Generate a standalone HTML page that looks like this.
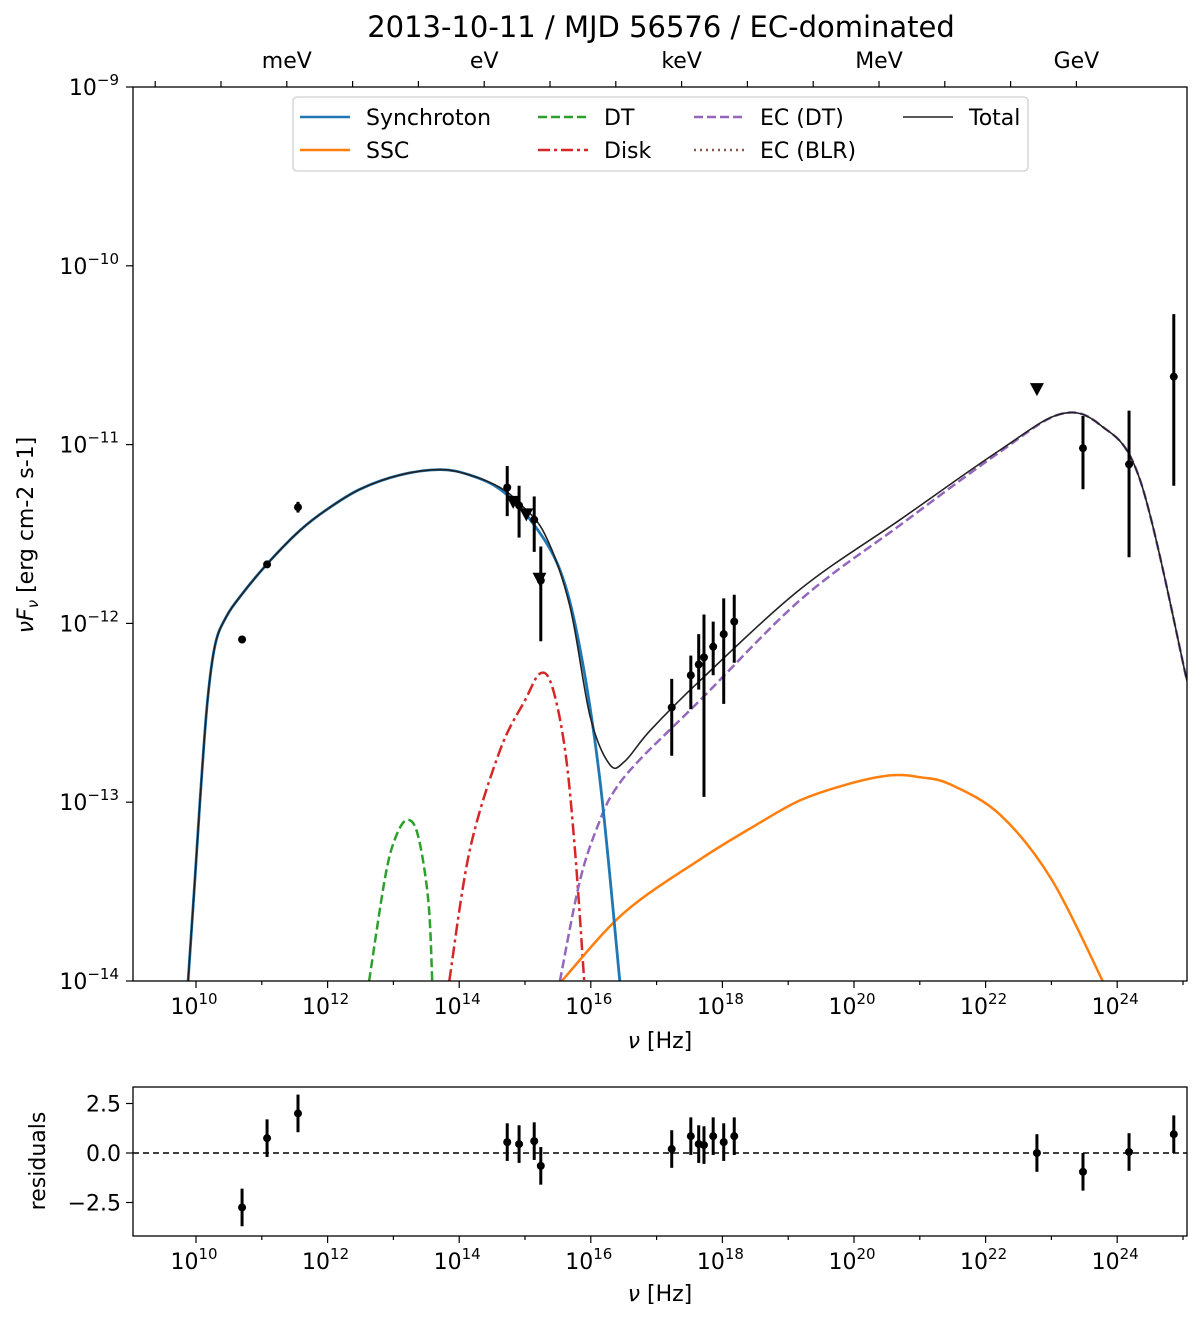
<!DOCTYPE html>
<html><head><meta charset="utf-8"><style>
body{margin:0;background:#fff;}
svg text{font-family:"DejaVu Sans","Liberation Sans",sans-serif;fill:#000;}
</style></head><body>
<svg id="chart" width="1200" height="1322" viewBox="0 0 1200 1322" xmlns="http://www.w3.org/2000/svg"></svg>
<script>
// ---- data (log10 nu, log10 nuFnu) ----
const syncX=[9.88,9.98,10.06,10.17,10.29,10.45,10.67,11.1,11.58,12.0,12.49,13.1,13.71,14.16,14.62,15.08,15.53,15.84,16.14,16.44];
const syncY=[-14,-13.45,-13.0,-12.45,-12.12,-11.97,-11.85,-11.66,-11.48,-11.36,-11.25,-11.17,-11.14,-11.17,-11.25,-11.42,-11.70,-12.15,-12.88,-14];
const totX=[9.88,9.98,10.06,10.17,10.29,10.45,10.67,11.1,11.58,12.0,12.49,13.1,13.71,14.16,14.62,14.92,15.30,15.68,15.99,16.29,16.52,16.90,17.66,19.18,20.70,22.22,23.13,23.74,24.35,25.06];
const totY=[-14,-13.45,-13.0,-12.45,-12.12,-11.97,-11.85,-11.66,-11.48,-11.36,-11.25,-11.17,-11.14,-11.17,-11.24,-11.33,-11.50,-11.90,-12.52,-12.79,-12.77,-12.6,-12.32,-11.81,-11.42,-11.03,-10.83,-10.89,-11.2,-12.32];
const ecX=[15.53,15.84,16.14,16.37,16.75,17.66,19.18,20.70,22.22,23.13,23.74,24.35,25.06];
const ecY=[-14,-13.43,-13.1,-12.93,-12.76,-12.43,-11.87,-11.45,-11.04,-10.83,-10.89,-11.2,-12.32];
const sscX=[15.56,16.5,17.66,18.5,19.18,19.9,20.55,21.0,21.46,22.22,23.0,23.78];
const sscY=[-14,-13.62,-13.32,-13.13,-12.99,-12.9,-12.85,-12.86,-12.9,-13.07,-13.43,-14];
const dtX=[12.63,12.87,13.02,13.2,13.37,13.53,13.59];
const dtY=[-14,-13.43,-13.21,-13.1,-13.18,-13.55,-14];
const diskX=[13.85,14.16,14.62,15.0,15.23,15.41,15.61,15.76,15.9];
const diskY=[-14,-13.27,-12.71,-12.43,-12.28,-12.35,-12.71,-13.27,-14];
const ptX=[10.70,11.08,11.55,14.73,14.91,15.14,15.24,17.23,17.52,17.64,17.72,17.86,18.02,18.18,23.48,24.18,24.86];
const ptY=[-12.09,-11.67,-11.35,-11.24,-11.34,-11.42,-11.76,-12.47,-12.29,-12.23,-12.19,-12.13,-12.06,-11.99,-11.02,-11.11,-10.62];
const ptHi=[-12.09,-11.67,-11.32,-11.12,-11.23,-11.29,-11.57,-12.31,-12.18,-12.06,-11.95,-11.99,-11.86,-11.84,-10.84,-10.81,-10.27];
const ptLo=[-12.09,-11.67,-11.38,-11.40,-11.52,-11.60,-12.10,-12.74,-12.48,-12.37,-12.97,-12.29,-12.45,-12.22,-11.25,-11.63,-11.23];
const ulX=[14.82,15.02,15.22,22.78];
const ulY=[-11.32,-11.39,-11.75,-10.69];
const resX=[10.70,11.08,11.55,14.73,14.91,15.14,15.24,17.23,17.52,17.64,17.72,17.86,18.02,18.18,22.78,23.48,24.18,24.86];
const resV=[-2.75,0.75,2.0,0.55,0.45,0.6,-0.65,0.2,0.85,0.45,0.4,0.85,0.55,0.85,0.0,-0.95,0.05,0.95];
const resE=[0.95,0.95,0.95,0.95,0.95,0.95,0.95,0.95,0.95,0.95,0.95,0.95,0.95,0.95,0.95,0.95,0.95,0.95];
const xTicks=[10,12,14,16,18,20,22,24];
const yTicks=[-9,-10,-11,-12,-13,-14];
const resTicks=[2.5,0.0,-2.5];
const energyLabels=["meV","eV","keV","MeV","GeV"];

// ---- axes ----
const L=133,R=1187,T=87,B=981, RT=1087,RB=1236;
const X=v=>196+(v-10)*65.8;
const Y=v=>87+(-9-v)*178.8;
const RY=v=>1153-v*19.8;
const svg=document.getElementById('chart');
const NS='http://www.w3.org/2000/svg';
function mk(tag,at,parent){const e=document.createElementNS(NS,tag);for(const k in at)e.setAttribute(k,at[k]);(parent||svg).appendChild(e);return e;}
function txt(s,x,y,size,anchor,parent){const t=mk('text',{x:x,y:y,'font-size':size,'text-anchor':anchor||'middle'},parent);t.textContent=s;return t;}

const defs=mk('defs',{});
const cp=mk('clipPath',{id:'mainclip'},defs);mk('rect',{x:L,y:T,width:R-L,height:B-T},cp);
const g=mk('g',{'clip-path':'url(#mainclip)'});



function smooth(P){
  let d='M'+P[0][0].toFixed(1)+','+P[0][1].toFixed(1);
  for(let i=0;i<P.length-1;i++){
    const p0=P[Math.max(0,i-1)],p1=P[i],p2=P[i+1],p3=P[Math.min(P.length-1,i+2)];
    const c1=[p1[0]+(p2[0]-p0[0])/6,p1[1]+(p2[1]-p0[1])/6];
    const c2=[p2[0]-(p3[0]-p1[0])/6,p2[1]-(p3[1]-p1[1])/6];
    d+=` C${c1[0].toFixed(1)},${c1[1].toFixed(1)} ${c2[0].toFixed(1)},${c2[1].toFixed(1)} ${p2[0].toFixed(1)},${p2[1].toFixed(1)}`;
  }
  return d;
}
function line(xs,ys,color,w,dash,name){
  const P=xs.map((v,i)=>[X(v),Y(ys[i])]);
  const p=mk('path',{d:smooth(P),fill:'none',stroke:color,'stroke-width':w,'stroke-dasharray':dash||'none','stroke-linejoin':'round'},g);
  
  
}
line(dtX,dtY,'#2ca02c',2.5,'9,4','dt-curve');
line(diskX,diskY,'#d62728',2.5,'12,4,3,4','disk-curve');
line(sscX,sscY,'#ff7f0e',2.5,'','ssc-curve');
line(ecX,ecY,'#9467bd',2.5,'9,4','ec-dt-curve');
line(syncX,syncY,'#1f77b4',2.8,'','synchrotron-curve');
line(totX,totY,'#222',1.6,'','total-curve');

ptX.forEach((v,i)=>{
  const e=mk('line',{x1:X(v),x2:X(v),y1:Y(ptHi[i]),y2:Y(ptLo[i]),stroke:'#000','stroke-width':3},g);
  
  
  const c=mk('circle',{cx:X(v),cy:Y(ptY[i]),r:4,fill:'#000'},g);
  
  
});
ulX.forEach((v,i)=>{
  const x=X(v),y=Y(ulY[i]);
  const p=mk('path',{d:`M${x-7},${y-6} L${x+7},${y-6} L${x},${y+7} Z`,fill:'#000'},g);
  
  
});

mk('rect',{x:L,y:T,width:R-L,height:B-T,fill:'none',stroke:'#000','stroke-width':1.3});
for(let d=9;d<=25;d++){
  if(X(d)<L||X(d)>R)continue;
  const major=xTicks.includes(d);
  [B,RB].forEach(by=>mk('line',{x1:X(d),x2:X(d),y1:by,y2:by+(major?7:4),stroke:'#000','stroke-width':1.2}));
}
xTicks.forEach(d=>{[B,RB].forEach(by=>{
  const t=mk('text',{x:X(d)-2,y:by+33,'font-size':22,'text-anchor':'middle'});
  t.innerHTML='10<tspan dy="-10" font-size="15">'+d+'</tspan>';
});});
yTicks.forEach(v=>{
  mk('line',{x1:L-7,x2:L,y1:Y(v),y2:Y(v),stroke:'#000','stroke-width':1.2});
  const t=mk('text',{x:L-14,y:Y(v)+8,'font-size':22,'text-anchor':'end'});
  t.innerHTML='10<tspan dy="-10" font-size="15">'+(v<0?'−'+(-v):v)+'</tspan>';
  if(v>-9){for(let m=2;m<=9;m++){const yy=Y(v+Math.log10(m));mk('line',{x1:L-4,x2:L,y1:yy,y2:yy,stroke:'#000','stroke-width':1});}}
});
for(let k=0;k<15;k++){const x=X(9.38+k*1);if(x>L&&x<R)mk('line',{x1:x,x2:x,y1:T-6,y2:T,stroke:'#000','stroke-width':1.2});}
energyLabels.forEach((s,i)=>{const t=txt(s,X(11.38+3*i),68,22);});
const title=txt('2013-10-11 / MJD 56576 / EC-dominated',661,37,29);

const xl=mk('text',{x:660,y:1048,'font-size':22,'text-anchor':'middle'});xl.innerHTML='<tspan font-style="italic">ν</tspan> [Hz]';

const yl=mk('text',{x:0,y:0,'font-size':22,'text-anchor':'middle',transform:'translate(33,535) rotate(-90)'});
yl.innerHTML='<tspan font-style="italic">νF</tspan><tspan font-style="italic" font-size="15" dy="5">ν</tspan><tspan dy="-5">  [erg cm-2 s-1]</tspan>';


const lg=mk('g',{});

mk('rect',{x:293,y:97,width:735,height:74,rx:4,fill:'#fff',stroke:'#d0d0d0','stroke-width':1.3},lg);
const leg=[['Synchroton','#1f77b4','',300,117],['SSC','#ff7f0e','',300,150],['DT','#2ca02c','9,4',538,117],['Disk','#d62728','12,4,3,4',538,150],['EC (DT)','#9467bd','9,4',694,117],['EC (BLR)','#8c564b','2,4',694,150],['Total','#222','',903,117]];
leg.forEach(l=>{
  const e=mk('g',{},lg);
  
  mk('line',{x1:l[3],x2:l[3]+50,y1:l[4],y2:l[4],stroke:l[1],'stroke-width':l[0]=='Total'?1.6:2.5,'stroke-dasharray':l[2]||'none'},e);
  txt(l[0],l[3]+66,l[4]+8,22,'start',e);
});

const rg=mk('g',{});

mk('rect',{x:L,y:RT,width:R-L,height:RB-RT,fill:'none',stroke:'#000','stroke-width':1.3},rg);
mk('line',{x1:L,x2:R,y1:RY(0),y2:RY(0),stroke:'#000','stroke-width':1.4,'stroke-dasharray':'6,4'},rg);
resTicks.forEach(v=>{mk('line',{x1:L-7,x2:L,y1:RY(v),y2:RY(v),stroke:'#000','stroke-width':1.2},rg);txt(v<0?'−'+(-v).toFixed(1):v.toFixed(1),L-12,RY(v)+8,22,'end',rg);});
resX.forEach((v,i)=>{
  const e=mk('line',{x1:X(v),x2:X(v),y1:RY(resV[i]+resE[i]),y2:RY(resV[i]-resE[i]),stroke:'#000','stroke-width':3},rg);
  
  const c=mk('circle',{cx:X(v),cy:RY(resV[i]),r:4,fill:'#000'},rg);
  
});
const rl=mk('text',{x:0,y:0,'font-size':22,'text-anchor':'middle',transform:'translate(45,1161) rotate(-90)'});rl.textContent='residuals';

const rxl=mk('text',{x:660,y:1301,'font-size':22,'text-anchor':'middle'});rxl.innerHTML='<tspan font-style="italic">ν</tspan> [Hz]';

</script>
</body></html>
